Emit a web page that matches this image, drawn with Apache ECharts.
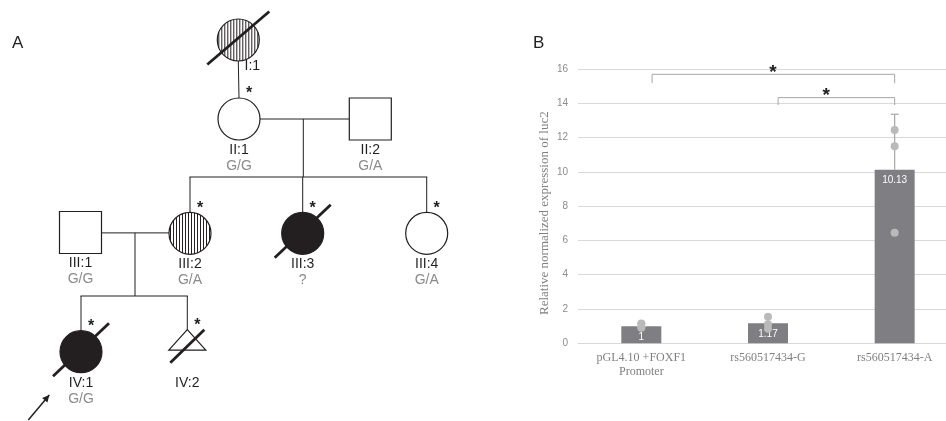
<!DOCTYPE html>
<html>
<head>
<meta charset="utf-8">
<title>Pedigree and luciferase assay</title>
<script src="https://cdn.jsdelivr.net/npm/echarts@6/dist/echarts.min.js"></script>
<style>
html,body{margin:0;padding:0;background:#fff;}
#main{width:946px;height:421px;}
</style>
</head>
<body>
<div id="main"></div>
<script>
// ---------- panel A : pedigree ----------
var people    = ['I:1','II:1','II:2','III:1','III:2','III:3','III:4','IV:1','IV:2'];
var sex       = ['F','F','M','M','F','F','F','F','U'];          // U = pregnancy / unknown (triangle)
var phenotype = ['carrier','normal','normal','normal','carrier','affected','normal','affected','normal'];
var deceased  = [true,false,false,false,false,true,false,true,true];
var tested    = [false,true,false,false,true,true,true,true,true];   // asterisk
var genotype  = ['','G/G','G/A','G/G','G/A','?','G/A','G/G',''];
// layout of the pedigree (in the hidden axis units)
var posX      = [238.3,239,370.3,80.5,190,302.7,426.7,81,187.3];
var posY      = [40,119,119,232.5,233.3,233.3,233.3,351.7,351.7];
var lineage   = [['I:1','II:1']];
var couples   = [['II:1','II:2'],['III:1','III:2']];
var children  = [['III:2','III:3','III:4'],['IV:1','IV:2']];
var dropX     = [303.3,135];
var sibY      = [177,296];
var proband   = 'IV:1';

// ---------- panel B : luciferase expression ----------
var categories = ['pGL4.10 +FOXF1\nPromoter','rs560517434-G','rs560517434-A'];
var meanExpr   = [1,1.17,10.13];
var errTop     = [1.15,1.52,13.36];
var replicates = [[1.15,0.95,0.9],[1.55,0.85,1.11],[12.44,11.5,6.45]];
var yMin = 0, yMax = 16, yStep = 2;
// significance brackets: [from, to, top value, foot value, star position, star value]
var brackets = [[0.085,2.0,15.69,15.17,1.04,15.78],[1.08,2.0,14.33,13.9,1.46,14.45]];

var R = 21;
var INK = '#231f20';
var SANS = '"Liberation Sans", Arial, sans-serif';

function idx(n){ return people.indexOf(n); }
function topOffset(i){ return sex[i] === 'U' ? 22 : R; }

function renderLinks(params, api){
    var kids = [];
    function pt(i){ return api.coord([posX[i], posY[i]]); }
    function seg(x1,y1,x2,y2){
        kids.push({type:'line', shape:{x1:x1,y1:y1,x2:x2,y2:y2}, style:{stroke:INK, lineWidth:1}});
    }
    lineage.forEach(function(l){
        var a = pt(idx(l[0])), b = pt(idx(l[1]));
        seg(a[0], a[1]+R, b[0], b[1]-R);
    });
    couples.forEach(function(c,k){
        var a = pt(idx(c[0])), b = pt(idx(c[1]));
        var y = (a[1]+b[1])/2;
        seg(a[0]+R, y, b[0]-R, y);
        var d = api.coord([dropX[k], sibY[k]]);
        seg(d[0], y, d[0], d[1]);
        var xs = children[k].map(function(n){ return pt(idx(n))[0]; });
        seg(Math.min.apply(null,xs)-0.5, d[1], Math.max.apply(null,xs)+0.5, d[1]);
        children[k].forEach(function(n){
            var i = idx(n), p = pt(i);
            seg(p[0], d[1], p[0], p[1]-topOffset(i));
        });
    });
    // proband arrow
    var p = pt(idx(proband));
    var ex = p[0]-31.7, ey = p[1]+43.3, sx = p[0]-52.7, sy = p[1]+68.3;
    kids.push({type:'line', shape:{x1:sx,y1:sy,x2:ex,y2:ey}, style:{stroke:INK, lineWidth:1.5}});
    var ang = Math.atan2(ey-sy, ex-sx), L = 7, W = 3.5;
    var bx = ex - L*Math.cos(ang), by = ey - L*Math.sin(ang);
    kids.push({type:'polygon', shape:{points:[[ex,ey],
        [bx + W*Math.sin(ang), by - W*Math.cos(ang)],
        [bx - W*Math.sin(ang), by + W*Math.cos(ang)]]}, style:{fill:INK}});
    return {type:'group', children:kids};
}

function renderPerson(params, api){
    var i = api.value(2);
    var c = api.coord([api.value(0), api.value(1)]);
    var cx = c[0], cy = c[1];
    var kids = [];
    var fill = phenotype[i] === 'affected' ? INK : '#fff';
    if (sex[i] === 'F') {
        kids.push({type:'circle', shape:{cx:cx,cy:cy,r:R}, style:{fill:fill, stroke:INK, lineWidth:1.2}});
        if (phenotype[i] === 'carrier') {
            for (var dx = -R+1.5; dx < R; dx += 3) {
                var h = Math.sqrt(R*R - dx*dx);
                kids.push({type:'line', shape:{x1:cx+dx,y1:cy-h,x2:cx+dx,y2:cy+h}, style:{stroke:INK, lineWidth:1}});
            }
        }
    } else if (sex[i] === 'M') {
        kids.push({type:'rect', shape:{x:cx-R,y:cy-R,width:2*R,height:2*R}, style:{fill:fill, stroke:INK, lineWidth:1.2}});
    } else {
        kids.push({type:'polygon', shape:{points:[[cx,cy-22],[cx+18.5,cy-1.5],[cx-18.5,cy-1.5]]},
            style:{fill:fill, stroke:INK, lineWidth:1.2}});
    }
    if (deceased[i]) {
        var big = people[i] === 'I:1';
        var sx = sex[i] === 'U' ? 17 : (big ? 31 : 28), sy = sex[i] === 'U' ? 16.5 : 26.5, oy = sex[i] === 'U' ? -5.5 : -2;
        kids.push({type:'line', shape:{x1:cx-sx,y1:cy+oy+sy,x2:cx+sx,y2:cy+oy-sy}, style:{stroke:INK, lineWidth:2.8}});
    }
    var top = cy - topOffset(i);
    if (tested[i]) {
        kids.push({type:'text', style:{text:'*', x:cx+10, y:top-4, fill:INK,
            font:'bold 16px ' + SANS, align:'center', verticalAlign:'middle'}});
    }
    var hasChildLine = lineage.some(function(l){ return l[0] === people[i]; });
    var lx = hasChildLine ? cx+14 : cx, ly = hasChildLine ? cy+R+5 : cy+R+10;
    kids.push({type:'text', style:{text:people[i], x:lx, y:ly, fill:INK,
        font:'14px ' + SANS, align:'center', verticalAlign:'middle'}});
    if (genotype[i]) {
        kids.push({type:'text', style:{text:genotype[i], x:cx, y:cy+R+26, fill:'#8a8a8a',
            font:'14px ' + SANS, align:'center', verticalAlign:'middle'}});
    }
    return {type:'group', children:kids};
}

function renderErr(params, api){
    var i = params.dataIndex;
    var a = api.coord([i, meanExpr[i]]), b = api.coord([i, errTop[i]]);
    var st = {stroke:'#a6a6a6', lineWidth:1.2};
    return {type:'group', children:[
        {type:'line', shape:{x1:a[0],y1:a[1],x2:b[0],y2:b[1]}, style:st},
        {type:'line', shape:{x1:b[0]-4,y1:b[1],x2:b[0]+4,y2:b[1]}, style:st}
    ]};
}

function renderBracket(params, api){
    var b = brackets[params.dataIndex];
    var c0 = api.coord([0, b[2]]), c1 = api.coord([1, b[2]]);
    var step = c1[0] - c0[0];
    function xAt(p){ return c0[0] + p*step; }
    var yTop = c0[1], yFoot = api.coord([0, b[3]])[1], yStar = api.coord([0, b[5]])[1];
    var st = {stroke:'#a6a6a6', lineWidth:1, fill:null};
    return {type:'group', children:[
        {type:'polyline', shape:{points:[[xAt(b[0]),yFoot],[xAt(b[0]),yTop],[xAt(b[1]),yTop],[xAt(b[1]),yFoot]]}, style:st},
        {type:'text', style:{text:'*', x:xAt(b[4]), y:yStar, fill:'#222',
            font:'bold 19px ' + SANS, align:'center', verticalAlign:'middle'}}
    ]};
}

var personData = people.map(function(n,i){ return [posX[i], posY[i], i]; });
var dotData = [];
replicates.forEach(function(r,i){ r.forEach(function(v){ dotData.push([i, v]); }); });

var chart = echarts.init(document.getElementById('main'));
chart.setOption({
    animation: false,
    backgroundColor: '#fff',
    graphic: [
        {type:'text', left:12, top:35, style:{text:'A', fill:INK, font:'17px ' + SANS}},
        {type:'text', left:533, top:35, style:{text:'B', fill:INK, font:'17px ' + SANS}}
    ],
    grid: [
        {left:0, top:0, width:470, height:421, outerBoundsMode:'none'},
        {left:578, top:69, width:380, height:274.3, outerBoundsMode:'none'}
    ],
    xAxis: [
        {gridIndex:0, type:'value', min:0, max:470, show:false},
        {gridIndex:1, type:'category', data:categories,
            axisLine:{show:true, lineStyle:{color:'#d9d9d9'}},
            axisTick:{show:false},
            axisLabel:{interval:0, color:'#7f7f7f', fontFamily:'"Liberation Serif", "Times New Roman", serif',
                fontSize:12, lineHeight:14, margin:8}}
    ],
    yAxis: [
        {gridIndex:0, type:'value', min:0, max:421, inverse:true, show:false},
        {gridIndex:1, type:'value', min:yMin, max:yMax, interval:yStep,
            axisLine:{show:false}, axisTick:{show:false},
            splitLine:{lineStyle:{color:'#d9d9d9', width:1}},
            axisLabel:{color:'#8c8c8c', fontSize:10, margin:10, fontFamily:SANS},
            name:'Relative normalized expression of luc2', nameLocation:'middle', nameGap:27,
            nameTextStyle:{color:'#7f7f7f', fontSize:13, fontFamily:'"Liberation Serif", "Times New Roman", serif',
                padding:[0,14,0,0]}}
    ],
    series: [
        {type:'custom', xAxisIndex:0, yAxisIndex:0, data:[[0,0]], renderItem:renderLinks, z:1, silent:true},
        {type:'custom', xAxisIndex:0, yAxisIndex:0, data:personData, renderItem:renderPerson, z:2, silent:true},
        {type:'bar', xAxisIndex:1, yAxisIndex:1, data:meanExpr, barWidth:40, z:2,
            itemStyle:{color:'#7f7f83'},
            label:{show:true, position:'insideTop', distance:6, color:'#fff', fontSize:10, fontFamily:SANS}},
        {type:'custom', xAxisIndex:1, yAxisIndex:1, data:meanExpr.map(function(v,i){ return [i, errTop[i]]; }),
            renderItem:renderErr, z:3, silent:true},
        {type:'scatter', xAxisIndex:1, yAxisIndex:1, data:dotData, symbolSize:8, z:4,
            itemStyle:{color:'#bababa', opacity:1}},
        {type:'custom', xAxisIndex:1, yAxisIndex:1, data:brackets.map(function(b){ return [2, b[2]]; }),
            renderItem:renderBracket, z:4, silent:true}
    ]
});
</script>
</body>
</html>
